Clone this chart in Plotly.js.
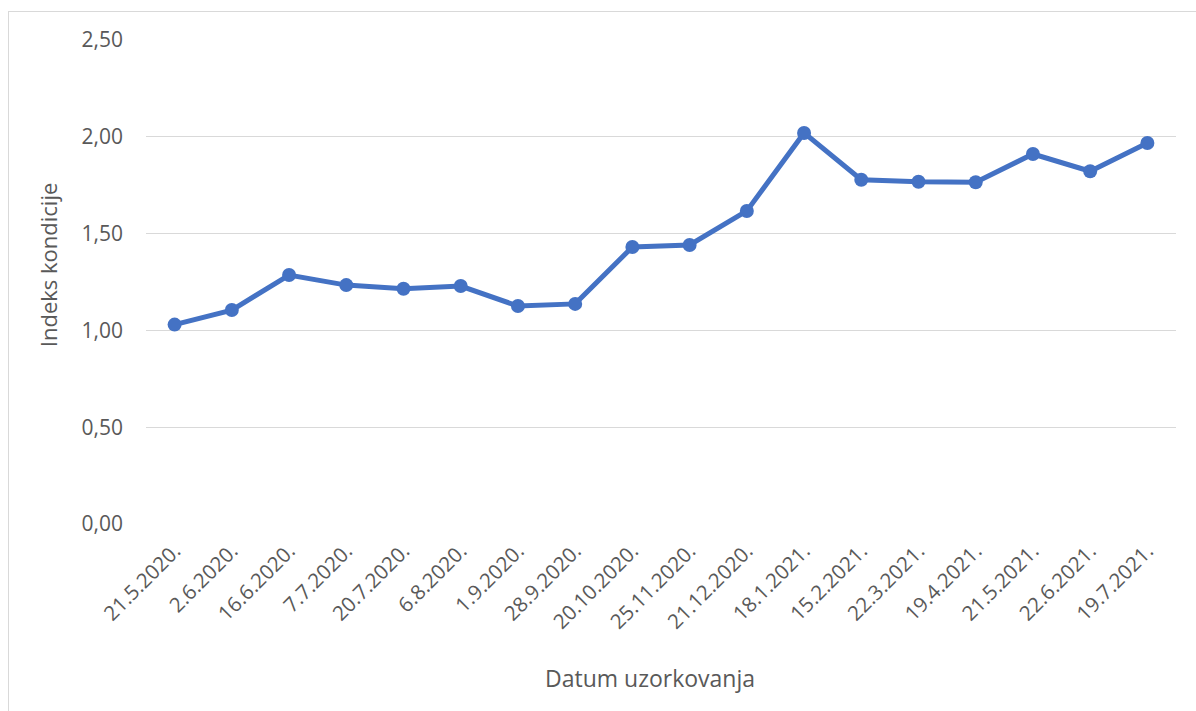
<!DOCTYPE html>
<html><head><meta charset="utf-8">
<script src="https://cdn.plot.ly/plotly-3.0.1.min.js"></script>
<style>
html,body{margin:0;padding:0;background:#fff;overflow:hidden;}
#frame{position:absolute;left:8px;top:11px;width:1300px;height:800px;border:1px solid #d9d9d9;box-sizing:border-box;}
#chart{position:absolute;left:0;top:0;width:1196px;height:711px;}
</style></head><body>
<div id="frame"></div>
<div id="chart"></div>
<script>
const dates = ["21.5.2020.","2.6.2020.","16.6.2020.","7.7.2020.","20.7.2020.","6.8.2020.","1.9.2020.","28.9.2020.","20.10.2020.","25.11.2020.","21.12.2020.","18.1.2021.","15.2.2021.","22.3.2021.","19.4.2021.","21.5.2021.","22.6.2021.","19.7.2021."];
const indeks = [1.03,1.105,1.286,1.234,1.215,1.229,1.126,1.137,1.431,1.441,1.617,2.02,1.778,1.768,1.765,1.911,1.822,1.968];
const yTicks = [0,0.5,1,1.5,2,2.5];
const yTickText = ["0,00","0,50","1,00","1,50","2,00","2,50"];

const font = "Open Sans, sans-serif";
Plotly.newPlot("chart", [{
  x: dates, y: indeks, type: "scatter", mode: "lines+markers",
  line: {color: "#4472C4", width: 5},
  marker: {color: "#4472C4", size: 14},
  hoverinfo: "skip"
}], {
  width: 1196, height: 711,
  margin: {l: 146, r: 20, t: 40, b: 187},
  paper_bgcolor: "rgba(0,0,0,0)", plot_bgcolor: "rgba(0,0,0,0)",
  showlegend: false,
  font: {family: font, color: "#595959", size: 21},
  xaxis: {
    type: "category", tickangle: -45, showgrid: false, zeroline: false,
    showline: false, ticks: "", ticklabelstandoff: 10, tickfont: {size: 20.5, color: "#595959"},
    range: [-0.5, dates.length - 0.5]
  },
  yaxis: {
    range: [0, 2.5], tickvals: yTicks, ticktext: yTickText,
    showgrid: true, gridcolor: "#d9d9d9", gridwidth: 1.3, zeroline: false,
    showline: false, ticks: "", ticklabelstandoff: 22, tickfont: {size: 21, color: "#595959"}
  },
  annotations: [
    {text: "Indeks kondicije", xref: "paper", yref: "paper", x: -0.095, y: 0.535,
     xanchor: "center", yanchor: "middle", textangle: -90, showarrow: false,
     font: {size: 22, color: "#595959"}},
    {text: "Datum uzorkovanja", xref: "paper", yref: "paper", x: 0.489, y: -0.318,
     xanchor: "center", yanchor: "middle", showarrow: false,
     font: {size: 23, color: "#595959"}}
  ]
}, {displayModeBar: false, staticPlot: true});
</script>
</body></html>
